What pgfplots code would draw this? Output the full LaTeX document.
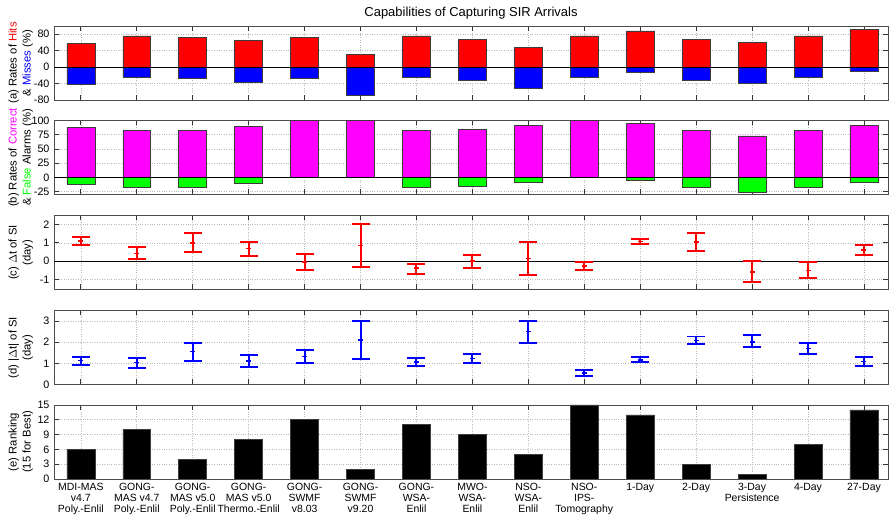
\documentclass[border=0pt]{standalone}
\usepackage{pgfplots}
\pgfplotsset{compat=1.18}
\usepackage{pgfplotstable}
\usepackage{fontspec}
\setmainfont{Liberation Sans}
\definecolor{edge}{RGB}{60,60,60}
\definecolor{mygreen}{RGB}{0,255,0}
\definecolor{myred}{RGB}{255,0,0}
\definecolor{myblue}{RGB}{0,0,255}
\definecolor{mymag}{RGB}{255,0,255}
\pgfplotstableread{
x y ep em
0 1.10 0.20 0.20
1 0.42 0.33 0.31
2 1.00 0.52 0.51
3 0.69 0.37 0.38
4 -0.04 0.42 0.45
5 0.86 1.19 1.16
6 -0.37 0.24 0.33
7 0.00 0.36 0.35
8 0.15 0.91 0.90
9 -0.26 0.21 0.20
10 1.08 0.14 0.15
11 1.04 0.48 0.46
12 -0.60 0.62 0.55
13 -0.50 0.45 0.43
14 0.60 0.28 0.27
}\dtdata
\pgfplotstableread{
x y ep em
0 1.13 0.17 0.19
1 1.03 0.24 0.23
2 1.56 0.41 0.43
3 1.10 0.31 0.28
4 1.33 0.30 0.32
5 2.11 0.89 0.89
6 1.07 0.20 0.20
7 1.22 0.22 0.21
8 2.51 0.49 0.54
9 0.54 0.14 0.16
10 1.17 0.12 0.12
11 2.08 0.19 0.18
12 2.01 0.31 0.25
13 1.70 0.27 0.27
14 1.08 0.21 0.22
}\absdtdata
\pgfplotsset{
  panel/.style={
    scale only axis, width=834bp, height=74bp,
    xmin=-0.48, xmax=14.43,
    xtick={0,...,14}, xticklabels={},
    tick align=inside, major tick length=5bp,
    grid=major, grid style={gray!55, dotted, line width=0.6pt},
    axis line style={gray!60!black, line width=0.9pt},
    tick style={gray!40!black, line width=0.9pt},
    ticklabel style={font=\fontsize{10.8}{11}\selectfont},
    yticklabel style={xshift=-1bp},
    /pgf/number format/assume math mode=true,
    ylabel style={align=center, font=\fontsize{11.3}{14}\selectfont, at={(axis description cs:-0.04,0.5)}, anchor=center},
  },
  bars/.style={ybar, bar width=0.5, bar shift=0pt, draw=edge, line width=0.6pt},
  ebar/.style={#1, line width=1.5pt, only marks, mark=-, mark size=2.5bp,
    error bars/.cd, y dir=both, y explicit,
    draw error bar/.code 2 args={\draw[#1, line width=2pt] ##1 -- ##2 ++(-9bp,0) -- ++(18bp,0);}},
}
\begin{document}
\begin{tikzpicture}
\path[use as bounding box] (0bp,0bp) rectangle (891bp,521bp);
\node[font=\fontsize{13}{14}\selectfont] at (471bp,508bp) {Capabilities of Capturing SIR Arrivals};
% (a)
\begin{axis}[panel, at={(54bp,495bp)}, anchor=north west,
  ymin=-80, ymax=100, ytick={-80,-40,0,40,80},
  ylabel={(a) Rates of \textcolor{myred}{Hits}\\\& \textcolor{myblue}{Misses} (\%)}]
\addplot[bars, fill=myred] coordinates {(0,58) (1,76) (2,72) (3,64) (4,72) (5,31) (6,76) (7,68) (8,48) (9,76) (10,88) (11,68) (12,60) (13,76) (14,91)};
\addplot[bars, fill=myblue] coordinates {(0,-42) (1,-24) (2,-28) (3,-36) (4,-28) (5,-69) (6,-24) (7,-32) (8,-52) (9,-24) (10,-12) (11,-32) (12,-40) (13,-24) (14,-9)};
\addplot[black, line width=1.2pt, forget plot] coordinates {(-0.48,0) (14.43,0)};
\end{axis}
% (b)
\begin{axis}[panel, at={(54bp,400.5bp)}, anchor=north west,
  ymin=-30, ymax=100, ytick={-25,0,25,50,75,100},
  ylabel={(b) Rates of \textcolor{mymag}{Correct}\\\& \textcolor{mygreen}{False} Alarms (\%)}]
\addplot[bars, fill=mymag] coordinates {(0,88) (1,83) (2,82) (3,89) (4,100) (5,100) (6,83) (7,85) (8,92) (9,100) (10,95) (11,82) (12,73) (13,83) (14,92)};
\addplot[bars, fill=mygreen] coordinates {(0,-12) (1,-17) (2,-18) (3,-11) (6,-17) (7,-15) (8,-8) (10,-5) (11,-18) (12,-27) (13,-17) (14,-8)};
\addplot[black, line width=1.2pt, forget plot] coordinates {(-0.48,0) (14.43,0)};
\end{axis}
% (c)
\begin{axis}[panel, at={(54bp,305.5bp)}, anchor=north west,
  ymin=-1.55, ymax=2.5, ytick={-1,0,1,2},
  ylabel={(c) $\Delta$t of SI\\(day)}]
\addplot[black, line width=1.2pt, forget plot] coordinates {(-0.48,0) (14.43,0)};
\addplot[ebar=myred] table[x=x, y=y, y error plus=ep, y error minus=em] {\dtdata};
\end{axis}
% (d)
\begin{axis}[panel, at={(54bp,210.5bp)}, anchor=north west,
  ymin=0, ymax=3.5, ytick={0,1,2,3},
  ylabel={(d) |$\Delta$t| of SI\\(day)}]
\addplot[ebar=myblue] table[x=x, y=y, y error plus=ep, y error minus=em] {\absdtdata};
\end{axis}
% (e)
\begin{axis}[panel, at={(54bp,116bp)}, anchor=north west,
  ymin=0, ymax=15, ytick={0,3,...,15},
  xticklabels={{MDI-MAS\\v4.7\\Poly.-Enlil},{GONG-\\MAS v4.7\\Poly.-Enlil},{GONG-\\MAS v5.0\\Poly.-Enlil},{GONG-\\MAS v5.0\\Thermo.-Enlil},{GONG-\\SWMF\\v8.03},{GONG-\\SWMF\\v9.20},{GONG-\\WSA-\\Enlil},{MWO-\\WSA-\\Enlil},{NSO-\\WSA-\\Enlil},{NSO-\\IPS-\\Tomography},{1-Day},{2-Day},{3-Day\\Persistence},{4-Day},{27-Day}},
  xticklabel style={align=center, anchor=north, yshift=-1bp, font=\fontsize{10.5}{10.7}\selectfont},
  ylabel={(e) Ranking\\(15 for Best)}]
\addplot[bars, fill=black] coordinates {(0,6) (1,10) (2,4) (3,8) (4,12) (5,2) (6,11) (7,9) (8,5) (9,15) (10,13) (11,3) (12,1) (13,7) (14,14)};
\end{axis}
\end{tikzpicture}
\end{document}
